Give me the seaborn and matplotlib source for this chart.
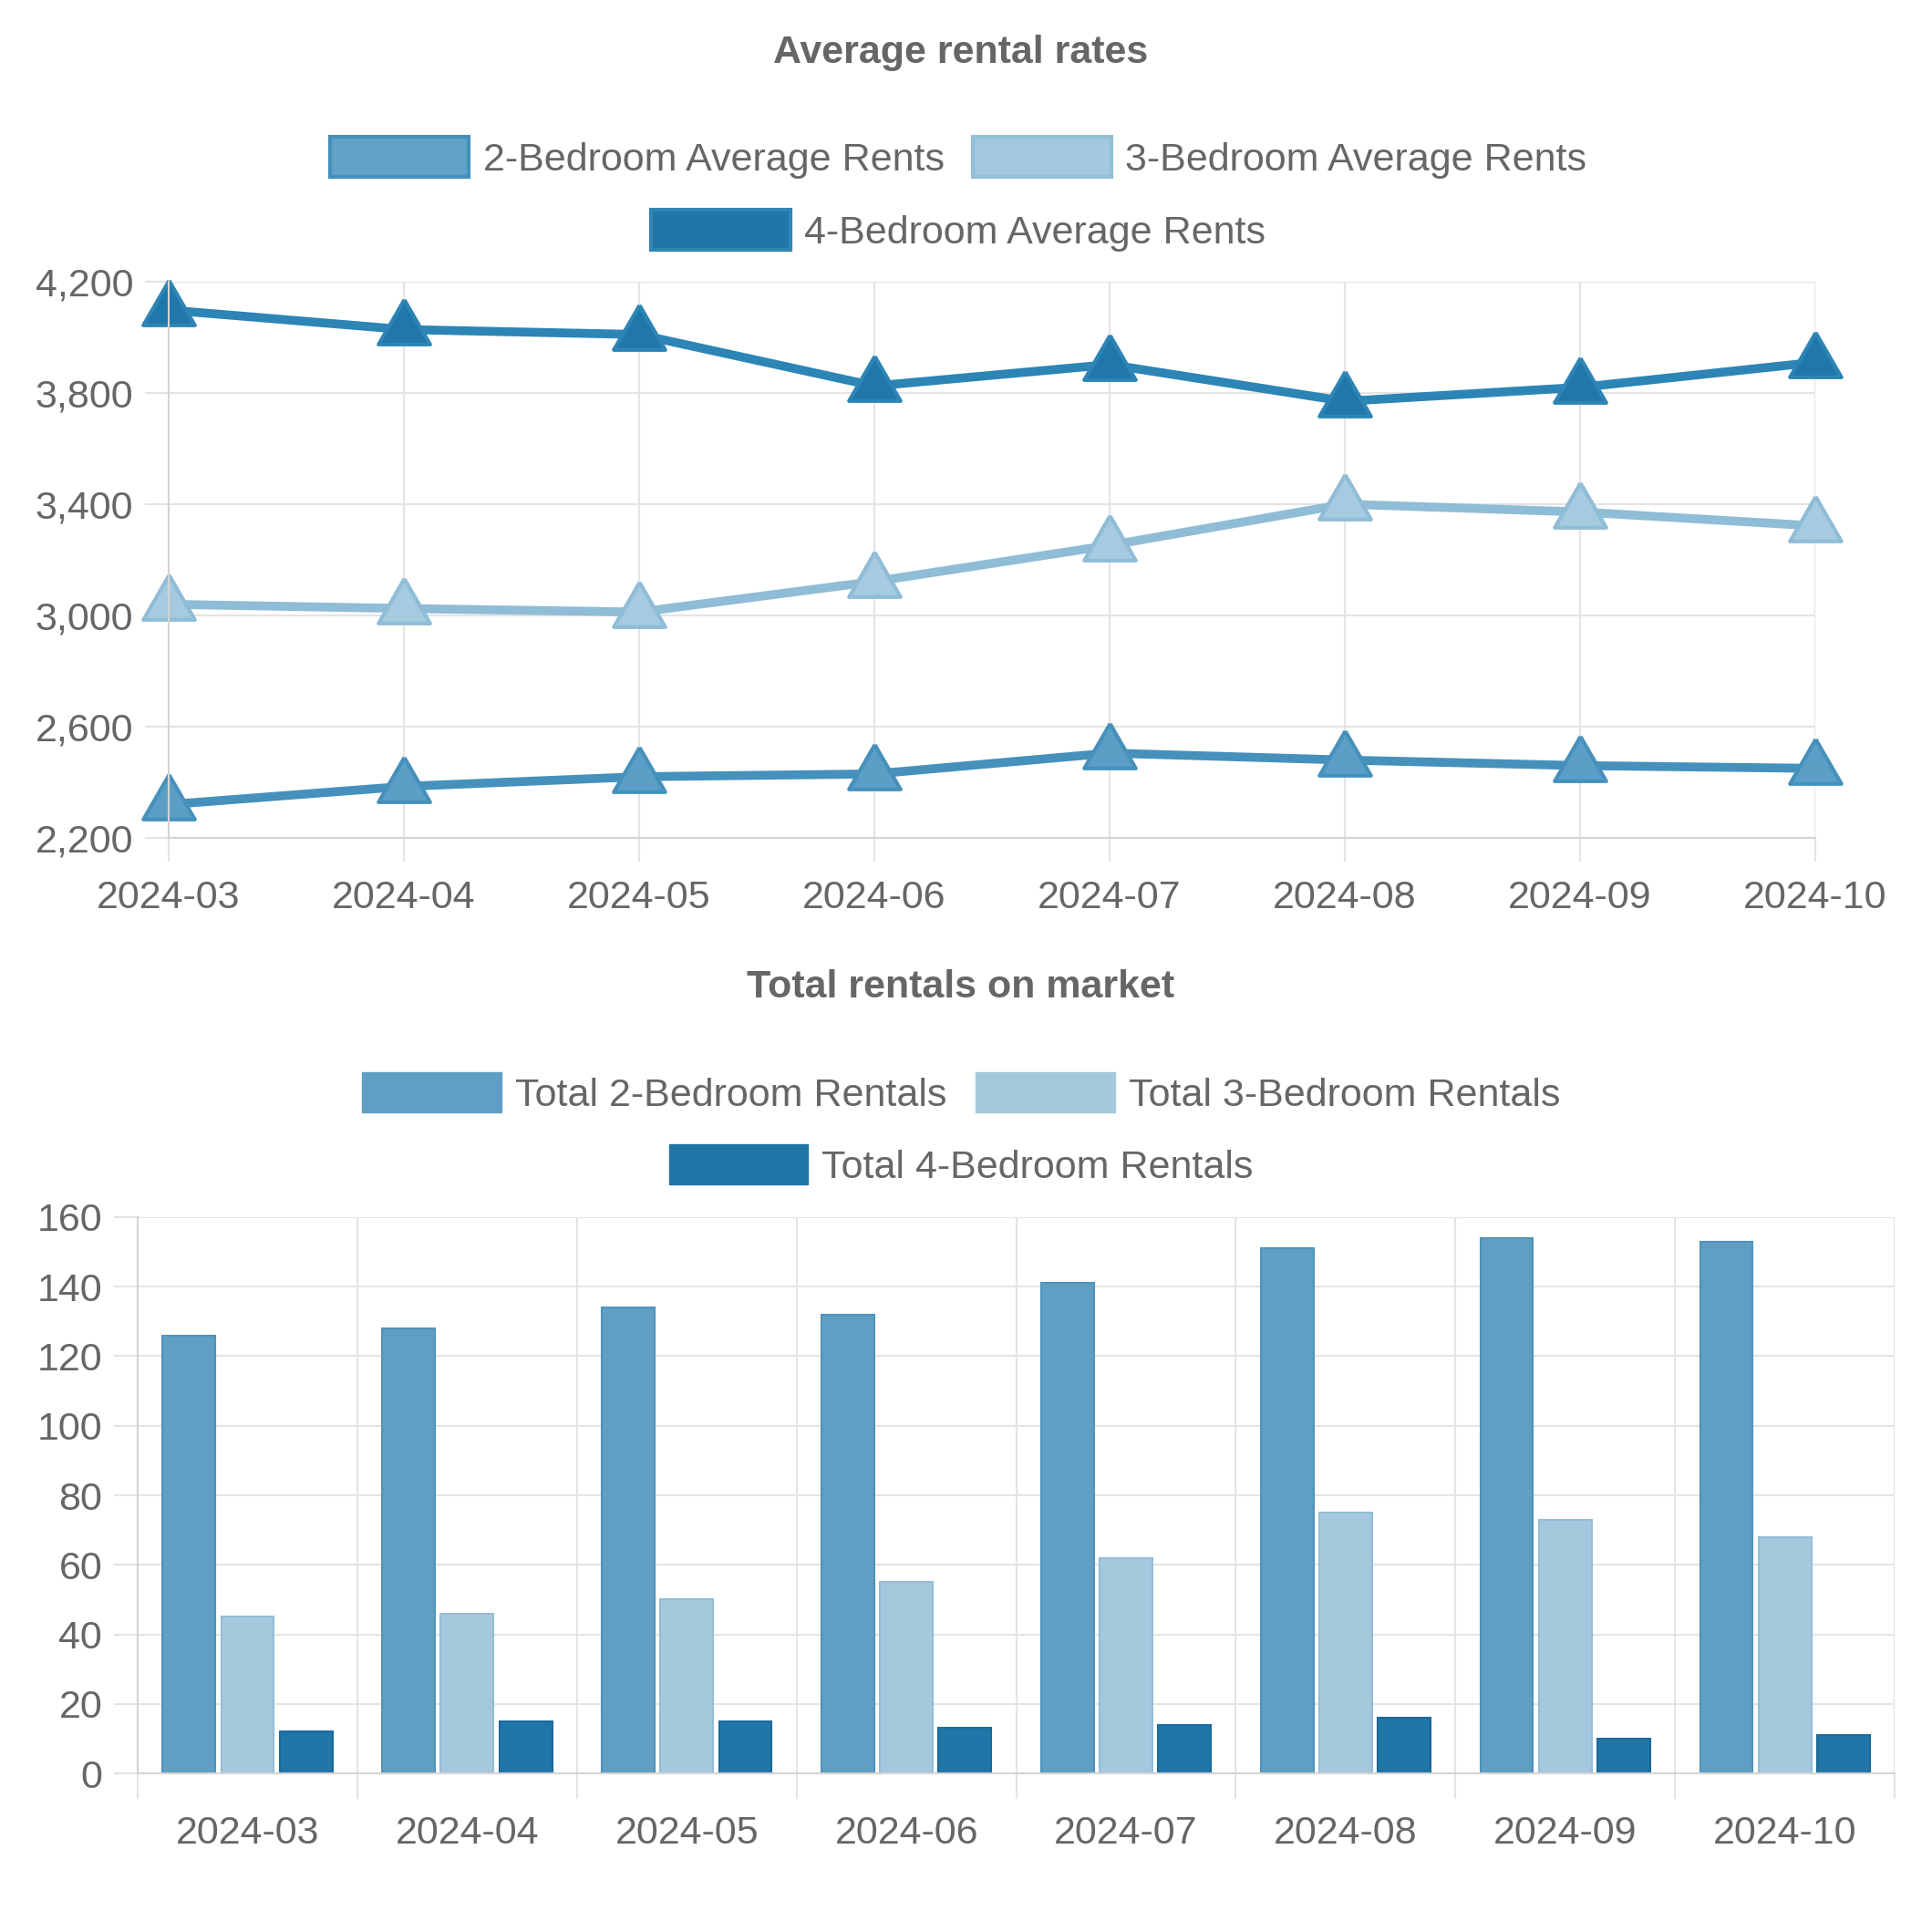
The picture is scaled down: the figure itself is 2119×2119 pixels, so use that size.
import numpy as np
import pandas as pd
import seaborn as sns
import matplotlib.pyplot as plt
from matplotlib.patches import Patch
from matplotlib.ticker import FuncFormatter, FixedLocator

# data
months = ["2024-03", "2024-04", "2024-05", "2024-06", "2024-07", "2024-08", "2024-09", "2024-10"]
rent_2br = [2320, 2385, 2420, 2430, 2505, 2480, 2460, 2450]
rent_3br = [3040, 3025, 3012, 3122, 3252, 3400, 3372, 3322]
rent_4br = [4098, 4028, 4010, 3825, 3902, 3770, 3820, 3910]
total_2br = [126, 128, 134, 132, 141, 151, 154, 153]
total_3br = [45, 46, 50, 55, 62, 75, 73, 68]
total_4br = [12, 15, 15, 13, 14, 16, 10, 11]

rent_labels = ["2-Bedroom Average Rents", "3-Bedroom Average Rents", "4-Bedroom Average Rents"]
total_labels = ["Total 2-Bedroom Rentals", "Total 3-Bedroom Rentals", "Total 4-Bedroom Rentals"]

TEXT = "#666666"
GRID = "#e4e4e4"
FS = 31

# equilateral triangle centred on its centroid (chart.js style point)
TRI = [(0, 1), (-0.866, -0.5), (0.866, -0.5), (0, 1)]

sns.set_theme(style="white")
plt.rcParams["font.family"] = ["Liberation Sans", "DejaVu Sans"]

fig = plt.figure(figsize=(21.19, 21.19), dpi=100)
ax1 = fig.add_axes([0.0873, 0.5663, 0.8523, 0.2879])
ax2 = fig.add_axes([0.0713, 0.0821, 0.9094, 0.2879])

# ---- line chart: average rents
line_styles = [
    (rent_2br, "#4591bb", "#5b9fc6"),
    (rent_3br, "#8fbcd6", "#a6cadf"),
    (rent_4br, "#2c85b5", "#1f77aa"),
]
for vals, lc, fc in line_styles:
    sns.lineplot(x=months, y=vals, ax=ax1, color=lc, lw=7, marker=TRI, ms=47,
                 markerfacecolor=fc, markeredgecolor=lc, markeredgewidth=3, clip_on=False)

ax1.set_xlim(0, 7)
ax1.set_ylim(2200, 4200)
ax1.set_yticks(range(2200, 4201, 400))
ax1.yaxis.set_major_formatter(FuncFormatter(lambda v, p: f"{int(v):,}"))
ax1.grid(True, color=GRID, lw=1.5)
ax1.tick_params(axis="both", direction="out", left=True, bottom=True, length=19, width=1.5,
                color=GRID, labelcolor=TEXT, labelsize=FS)
ax1.tick_params(axis="y", pad=9)
ax1.tick_params(axis="x", pad=14)
ax1.set_xlabel("")
ax1.set_ylabel("")

# ---- bar chart: total rentals
df = pd.DataFrame({
    "month": months * 3,
    "count": total_2br + total_3br + total_4br,
    "type": [total_labels[0]] * 8 + [total_labels[1]] * 8 + [total_labels[2]] * 8,
})
bar_colors = ["#609fc3", "#a5c8dd", "#1f76a7"]
bar_edges = ["#4f93bb", "#93bed7", "#1a6b9b"]
sns.barplot(data=df, x="month", y="count", hue="type", palette=bar_colors, width=0.8,
            gap=0.1, saturation=1, legend=False, ax=ax2)
for cont, ec in zip(ax2.containers, bar_edges):
    for p in cont:
        p.set_edgecolor(ec)
        p.set_linewidth(1.5)

ax2.set_xlim(-0.5, 7.5)
ax2.set_ylim(0, 160)
ax2.set_yticks(range(0, 161, 20))
ax2.xaxis.set_minor_locator(FixedLocator(np.arange(-0.5, 8, 1)))
ax2.xaxis.grid(False, which="major")
ax2.xaxis.grid(True, which="minor", color=GRID, lw=1.5)
ax2.yaxis.grid(True, which="major", color=GRID, lw=1.5)
ax2.set_axisbelow(True)
ax2.tick_params(axis="y", direction="out", left=True, length=19, width=1.5, color=GRID,
                labelcolor=TEXT, labelsize=FS, pad=9)
ax2.tick_params(axis="x", which="major", bottom=True, length=0, labelcolor=TEXT, labelsize=FS, pad=33)
ax2.tick_params(axis="x", which="minor", direction="out", bottom=True, length=20, width=1.5, color=GRID)
ax2.set_xlabel("")
ax2.set_ylabel("")

for ax in (ax1, ax2):
    ax.spines["top"].set_visible(False)
    ax.spines["right"].set_visible(False)
    for s in ("left", "bottom"):
        ax.spines[s].set_color("#d4d4d4")
        ax.spines[s].set_linewidth(1.5)

# ---- titles
fig.text(0.497, 0.9725, "Average rental rates", ha="center", va="center",
         fontsize=FS, fontweight="bold", color=TEXT)
fig.text(0.497, 0.4889, "Total rentals on market", ha="center", va="center",
         fontsize=FS, fontweight="bold", color=TEXT)

# ---- legends (two rows each, centred like the original)
leg_kw = dict(loc="center", frameon=False, fontsize=FS, handlelength=3.55, handleheight=1.2,
              handletextpad=0.35, columnspacing=0.72, labelcolor=TEXT, borderpad=0)
rent_handles = [
    Patch(facecolor="#63a2c7", edgecolor="#4591bb", lw=3, label=rent_labels[0]),
    Patch(facecolor="#a4c8dd", edgecolor="#93bfd8", lw=3, label=rent_labels[1]),
    Patch(facecolor="#1f77a9", edgecolor="#2f86b5", lw=3, label=rent_labels[2]),
]
total_handles = [Patch(facecolor=c, edgecolor=c, lw=1, label=l) for c, l in zip(bar_colors, total_labels)]

fig.legend(handles=rent_handles[:2], ncol=2, bbox_to_anchor=(0.496, 0.9184), **leg_kw)
fig.legend(handles=rent_handles[2:], ncol=1, bbox_to_anchor=(0.496, 0.8806), **leg_kw)
fig.legend(handles=total_handles[:2], ncol=2, bbox_to_anchor=(0.4975, 0.4342), **leg_kw)
fig.legend(handles=total_handles[2:], ncol=1, bbox_to_anchor=(0.4975, 0.3969), **leg_kw)

fig.savefig("out.png", dpi=100, facecolor="white")
